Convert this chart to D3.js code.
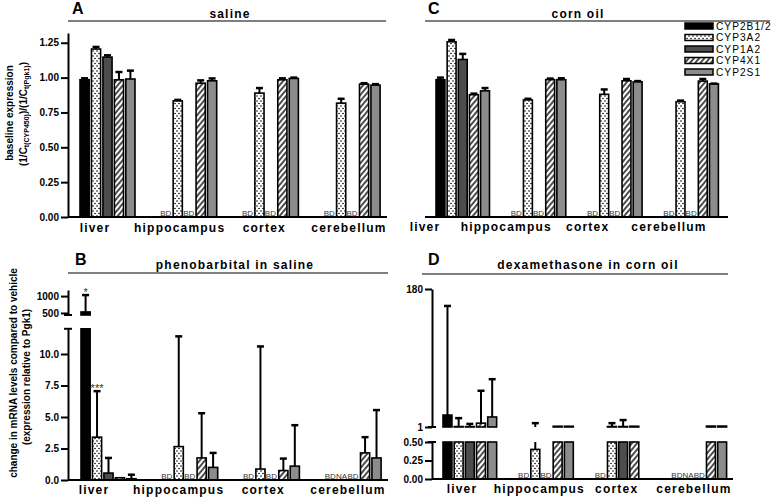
<!DOCTYPE html>
<html><head><meta charset="utf-8">
<script src="https://cdn.jsdelivr.net/npm/d3@7/dist/d3.min.js"></script>
<style>
body{margin:0;background:#fff}
svg{display:block}
text{font-family:"Liberation Sans",Arial,sans-serif}
</style>
</head><body>
<svg id="chart" width="775" height="499"></svg>
<script>
// ---------------- DATA ----------------
const tissues = ["liver", "hippocampus", "cortex", "cerebellum"];
const cyps = ["CYP2B1/2", "CYP3A2", "CYP1A2", "CYP4X1", "CYP2S1"];

// Panel A: saline baseline expression (rows = cyps, cols = tissues); "BD" = below detection
const salineMean  = [[0.985,"BD","BD","BD"],[1.205,0.833,0.889,0.817],[1.147,"BD","BD","BD"],[0.984,0.96,0.984,0.953],[0.99,0.977,0.994,0.946]];
const salineUpper = [[0.995,null,null,null],[1.22,0.84,0.925,0.848],[1.16,null,null,null],[1.04,0.98,0.995,0.96],[1.05,0.994,1.0,0.953]];

// Panel C: corn oil baseline expression
const cornOilMean  = [[0.985,"BD","BD","BD"],[1.257,0.84,0.88,0.827],[1.13,"BD","BD","BD"],[0.877,0.985,0.977,0.975],[0.905,0.985,0.97,0.955]];
const cornOilUpper = [[1.0,null,null,null],[1.27,0.848,0.915,0.835],[1.17,null,null,null],[0.885,0.993,0.99,0.99],[0.925,0.995,0.975,0.957]];

// Panel B: phenobarbital in saline, fold change
const phenoMean  = [[530,"BD","BD","BD"],[3.4,2.65,0.87,"NA"],[0.55,"BD","BD","BD"],[0.18,1.75,0.75,2.15],[0.1,1.0,1.1,1.75]];
const phenoUpper = [[1030,null,null,null],[7.05,11.4,10.6,null],[1.75,null,null,null],[0.18,5.3,1.7,3.4],[0.42,2.15,4.35,5.55]];

// Panel D: dexamethasone in corn oil, fold change
const dexaMean  = [[16.5,"BD","BD","BD"],[1.6,0.4,1.6,"NA"],[1.5,"BD",1.6,"BD"],[6,2,2,2.2],[14,2,null,2.2]];
const dexaUpper = [[158,null,null,null],[12.5,6,6,null],[5,null,10,null],[48,2,2,2.2],[63,2,null,2.2]];

// Tick labels
const ticksA = [0, 0.25, 0.5, 0.75, 1.0, 1.25];
const ticksBLow = [0, 2.5, 5, 7.5, 10];
const ticksBHigh = [500, 1000];
const ticksDLow = [0, 0.25, 0.5];
const ticksDHigh = [1, 180];

// Significance marks
const stars = [
  {panel: "B", tissue: "liver", cyp: "CYP2B1/2", text: "*"},
  {panel: "B", tissue: "liver", cyp: "CYP3A2", text: "***"}
];

// ---------------- DRAWING ----------------
const svg = d3.select("#chart");
const defs = svg.append("defs");

const dots = defs.append("pattern").attr("id", "dots")
  .attr("patternUnits", "userSpaceOnUse").attr("width", 4).attr("height", 5);
dots.append("rect").attr("width", 4).attr("height", 5).attr("fill", "#fff");
dots.append("circle").attr("cx", 1).attr("cy", 1).attr("r", 0.8).attr("fill", "#000");
dots.append("circle").attr("cx", 3).attr("cy", 3.5).attr("r", 0.8).attr("fill", "#000");

const hatch = defs.append("pattern").attr("id", "hatch")
  .attr("patternUnits", "userSpaceOnUse").attr("width", 4).attr("height", 4)
  .attr("patternTransform", "rotate(40)");
hatch.append("rect").attr("width", 4).attr("height", 4).attr("fill", "#fff");
hatch.append("line").attr("x1", 1).attr("x2", 1).attr("y1", 0).attr("y2", 4)
  .attr("stroke", "#000").attr("stroke-width", 1.4);

const fills = ["#000", "url(#dots)", "#4d4d4d", "url(#hatch)", "#8c8c8c"];

const panels = [
  {key: "A", title: "saline", mean: salineMean, upper: salineUpper, yAxis: true,
   x0: [80, 380.1], pad: 0.327, labels: [95, 349], axisX: 68, xEnd: 387, labelY: 232,
   titleLine: [68, 386, 21], titleX: 230, titleY: 18, letter: [72, 14],
   segs: [{domain: [0, 1.32], range: [217, 33], ticks: ticksA, fmt: d3.format(".2f")}]},
  {key: "C", title: "corn oil", mean: cornOilMean, upper: cornOilUpper, yAxis: false,
   x0: [436, 718.4], pad: 0.299, labels: [425, 669], axisX: 425, xEnd: 728, labelY: 231,
   titleLine: [425, 770, 21], titleX: 578, titleY: 18, letter: [428, 14],
   segs: [{domain: [0, 1.32], range: [217, 33], ticks: ticksA, fmt: d3.format(".2f")}]},
  {key: "B", title: "phenobarbital in saline", mean: phenoMean, upper: phenoUpper, yAxis: true,
   x0: [81, 381.1], pad: 0.327, labels: [94, 348], axisX: 68, xEnd: 388, labelY: 494,
   titleLine: [68, 388, 273], titleX: 235, titleY: 269, letter: [75, 265],
   segs: [{domain: [0, 12], range: [480, 328.8], ticks: ticksBLow, fmt: d3.format(".1f")},
          {domain: [440, 1180], range: [315, 290], ticks: ticksBHigh, fmt: d3.format("d")}]},
  {key: "D", title: "dexamethasone in corn oil", mean: dexaMean, upper: dexaUpper, yAxis: true,
   x0: [443, 726.6], pad: 0.30, labels: [462, 694], axisX: 432, xEnd: 733, labelY: 493,
   titleLine: [422, 728, 274], titleX: 588, titleY: 269, letter: [428, 265],
   segs: [{domain: [0, 0.5], range: [479, 442], ticks: ticksDLow, fmt: d3.format(".2f")},
          {domain: [1, 180], range: [427, 289], ticks: ticksDHigh, fmt: d3.format("d")}]}
];

panels.forEach(p => {
  const g = svg.append("g");
  const x0 = d3.scaleBand().domain(tissues).range(p.x0).paddingInner(p.pad).paddingOuter(0);
  const x1 = d3.scaleBand().domain(cyps).range([0, x0.bandwidth()]).paddingInner(0.2);
  const lx = d3.scalePoint().domain(tissues).range(p.labels);
  const segs = p.segs.map(s => ({...s, y: d3.scaleLinear().domain(s.domain).range(s.range)}));
  const baseY = segs[0].y(0);

  // bars
  cyps.forEach((c, i) => {
    tissues.forEach((t, j) => {
      const v = p.mean[i][j];
      const u = p.upper[i][j];
      const bx = x0(t) + x1(c);
      const bw = x1.bandwidth();
      if (typeof v === "string") {
        g.append("text").attr("x", bx + bw / 2 - 0.5).attr("y", baseY - 1.5)
          .attr("text-anchor", "middle").attr("font-size", 8).attr("fill", "#333").text(v);
        return;
      }
      if (v === null) return;
      segs.forEach(s => {
        const lo = s.domain[0], hi = s.domain[1];
        if (v > lo) {
          const top = s.y(Math.min(v, hi));
          const bot = s.y(lo);
          g.append("rect").attr("x", bx).attr("y", top).attr("width", bw)
            .attr("height", Math.max(0, bot - top)).attr("fill", fills[i])
            .attr("stroke", "#000").attr("stroke-width", 1.6);
        }
      });
      if (u !== null && u > v) {
        segs.forEach(s => {
          const lo = s.domain[0], hi = s.domain[1];
          const a = Math.max(v, lo), b = Math.min(u, hi);
          const cx = bx + bw / 2;
          if (b > a) {
            g.append("line").attr("x1", cx).attr("x2", cx).attr("y1", s.y(a)).attr("y2", s.y(b))
              .attr("stroke", "#000").attr("stroke-width", 2);
          }
          if (u >= lo && u <= hi) {
            g.append("line").attr("x1", cx - 3.5).attr("x2", cx + 3.5).attr("y1", s.y(u)).attr("y2", s.y(u))
              .attr("stroke", "#000").attr("stroke-width", 2.5);
          }
        });
      }
    });
  });

  // significance stars
  stars.filter(s => s.panel === p.key).forEach(s => {
    const i = cyps.indexOf(s.cyp), j = tissues.indexOf(s.tissue);
    const u = p.upper[i][j];
    const seg = segs.find(sg => u >= sg.domain[0] && u <= sg.domain[1]);
    g.append("text").attr("x", x0(s.tissue) + x1(s.cyp) + x1.bandwidth() / 2)
      .attr("y", seg.y(u) + 1).attr("text-anchor", "middle").attr("font-size", 11)
      .attr("fill", "#333").text(s.text);
  });

  // y axes
  if (p.yAxis) {
    segs.forEach((s, k) => {
      const ax = g.append("g").attr("transform", `translate(${p.axisX},0)`)
        .call(d3.axisLeft(s.y).tickValues(s.ticks).tickFormat(s.fmt).tickSize(7).tickSizeOuter(0).tickPadding(2));
      ax.select(".domain").attr("stroke-width", 2);
      ax.selectAll(".tick line").attr("stroke-width", 2);
      ax.selectAll(".tick text").attr("font-size", 10).attr("font-weight", "bold").attr("fill", "#000")
        .style("font-family", "'Liberation Sans',Arial,sans-serif");
    });
    if (segs.length > 1) {
      // axis break marks
      g.append("line").attr("x1", p.axisX - 4).attr("x2", p.axisX + 4)
        .attr("y1", segs[0].range[1]).attr("y2", segs[0].range[1]).attr("stroke", "#000").attr("stroke-width", 2);
      g.append("line").attr("x1", p.axisX - 4).attr("x2", p.axisX + 4)
        .attr("y1", segs[1].range[0]).attr("y2", segs[1].range[0]).attr("stroke", "#000").attr("stroke-width", 2);
    }
  }

  // x baseline
  g.append("line").attr("x1", p.axisX).attr("x2", p.xEnd)
    .attr("y1", baseY).attr("y2", baseY).attr("stroke", "#000").attr("stroke-width", 2);

  // category labels
  tissues.forEach(t => {
    g.append("text").attr("x", lx(t)).attr("y", p.labelY).attr("text-anchor", "middle")
      .attr("font-size", 12).attr("font-weight", "bold").attr("letter-spacing", 1.2).text(t);
  });

  // title
  g.append("line").attr("x1", p.titleLine[0]).attr("x2", p.titleLine[1])
    .attr("y1", p.titleLine[2]).attr("y2", p.titleLine[2]).attr("stroke", "#555").attr("stroke-width", 1.5);
  g.append("text").attr("x", p.titleX).attr("y", p.titleY).attr("text-anchor", "middle")
    .attr("font-size", 12).attr("font-weight", "bold").attr("letter-spacing", 1.2).text(p.title);
  g.append("text").attr("x", p.letter[0]).attr("y", p.letter[1])
    .attr("font-size", 16).attr("font-weight", "bold").text(p.key);
});

// y-axis titles
svg.append("text").attr("transform", "translate(13,113) rotate(-90)")
  .attr("text-anchor", "middle").attr("font-size", 10).attr("font-weight", "bold")
  .text("baseline expression");
const yA2 = svg.append("text").attr("transform", "translate(27,114) rotate(-90)")
  .attr("text-anchor", "middle").attr("font-size", 10).attr("font-weight", "bold");
yA2.append("tspan").text("(1/C");
yA2.append("tspan").attr("font-size", 7).attr("dy", 2).text("t(CYP450)");
yA2.append("tspan").attr("dy", -2).text(")/(1/C");
yA2.append("tspan").attr("font-size", 7).attr("dy", 2).text("t(Pgk1)");
yA2.append("tspan").attr("dy", -2).text(")");

svg.append("text").attr("transform", "translate(17,373) rotate(-90)")
  .attr("text-anchor", "middle").attr("font-size", 10).attr("font-weight", "bold")
  .text("change in mRNA levels compared to vehicle");
svg.append("text").attr("transform", "translate(30,377) rotate(-90)")
  .attr("text-anchor", "middle").attr("font-size", 10).attr("font-weight", "bold")
  .text("(expression relative to Pgk1)");

// legend
const legY = d3.scalePoint().domain(cyps).range([26, 72]);
const leg = svg.append("g");
cyps.forEach((c, i) => {
  leg.append("rect").attr("x", 685).attr("y", legY(c) - 3).attr("width", 28).attr("height", 6)
    .attr("fill", fills[i]).attr("stroke", "#000").attr("stroke-width", 1.5);
  leg.append("text").attr("x", 716).attr("y", legY(c) + 3.8).attr("font-size", 10.2)
    .attr("letter-spacing", 1).text(c);
});
</script>
</body></html>
